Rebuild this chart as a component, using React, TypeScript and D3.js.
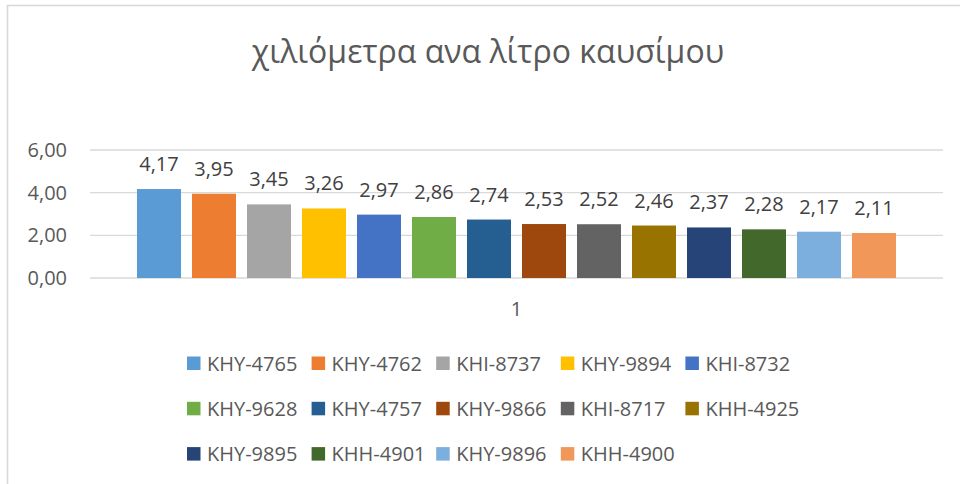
import React from "react";
import * as d3 from "d3";

const title = "χιλιόμετρα ανα λίτρο καυσίμου";
const categories = ["1"];
const seriesNames = [
  "KHY-4765", "KHY-4762", "KHI-8737", "KHY-9894", "KHI-8732",
  "KHY-9628", "KHY-4757", "KHY-9866", "KHI-8717", "KHH-4925",
  "KHY-9895", "KHH-4901", "KHY-9896", "KHH-4900",
];
const values = [4.17, 3.95, 3.45, 3.26, 2.97, 2.86, 2.74, 2.53, 2.52, 2.46, 2.37, 2.28, 2.17, 2.11];
const colors = [
  "#5B9BD5", "#ED7D31", "#A5A5A5", "#FFC000", "#4472C4",
  "#70AD47", "#255E91", "#9E480E", "#636363", "#997300",
  "#264478", "#43682B", "#7CAFDD", "#F1975A",
];
const yTicks = [0, 2, 4, 6];

const W = 960;
const H = 484;
const FONT = "'Open Sans', sans-serif";
const TEXT = "#595959";
const GRID = "#D9D9D9";

const fmt = (v: number) => v.toFixed(2).replace(".", ",");

export default function App() {
  const plotLeft = 90;
  const plotRight = 943;
  const y = d3.scaleLinear().domain([0, 6]).range([278, 150]);
  const xCat = d3.scaleBand().domain(categories).range([plotLeft, plotRight]).paddingInner(0).paddingOuter(0);
  const catBw = xCat.bandwidth();
  const seriesSpan = 770;
  const catStart = (xCat(categories[0]) as number) + (catBw - seriesSpan) / 2;
  const xSer = d3
    .scaleBand<number>()
    .domain(d3.range(seriesNames.length))
    .range([catStart, catStart + seriesSpan])
    .paddingInner(0.2)
    .paddingOuter(0.1);

  const legendCols = 5;
  const legendX0 = 187;
  const legendDx = 124.6;
  const legendY0 = 363;
  const legendDy = 45.3;

  return (
    <svg width={W} height={H} style={{ position: "absolute", left: 0, top: 0, background: "#fff" }}>
      <rect x={0} y={0} width={W} height={H} fill="#fff" />
      <rect x={7.5} y={5.5} width={W + 20} height={H + 20} fill="none" stroke={GRID} strokeWidth={1.6} />
      <text x={488} y={63} textAnchor="middle" fontFamily={FONT} fontSize={32} fill={TEXT}>
        {title}
      </text>
      {yTicks.map((t) => (
        <g key={t}>
          <line x1={plotLeft} x2={plotRight} y1={y(t)} y2={y(t)} stroke={GRID} strokeWidth={1.3} />
          <text x={67} y={y(t) + 7} textAnchor="end" fontFamily={FONT} fontSize={20} fill={TEXT}>
            {fmt(t)}
          </text>
        </g>
      ))}
      {values.map((v, i) => {
        const x0 = xSer(i) as number;
        const bw = xSer.bandwidth();
        return (
          <g key={i}>
            <rect x={x0} y={y(v)} width={bw} height={y(0) - y(v)} fill={colors[i]} />
            <text x={x0 + bw / 2} y={y(v) - 18} textAnchor="middle" fontFamily={FONT} fontSize={20} fill="#404040">
              {fmt(v)}
            </text>
          </g>
        );
      })}
      {categories.map((c) => (
        <text key={c} x={(xCat(c) as number) + catBw / 2} y={316} textAnchor="middle" fontFamily={FONT} fontSize={20} fill={TEXT}>
          {c}
        </text>
      ))}
      {seriesNames.map((n, i) => {
        const col = i % legendCols;
        const row = Math.floor(i / legendCols);
        const lx = legendX0 + col * legendDx;
        const ly = legendY0 + row * legendDy;
        return (
          <g key={n}>
            <rect x={lx} y={ly - 6.5} width={13.5} height={13.5} fill={colors[i]} />
            <text x={lx + 20} y={ly + 7.5} fontFamily={FONT} fontSize={20} fill={TEXT}>
              {n}
            </text>
          </g>
        );
      })}
    </svg>
  );
}
